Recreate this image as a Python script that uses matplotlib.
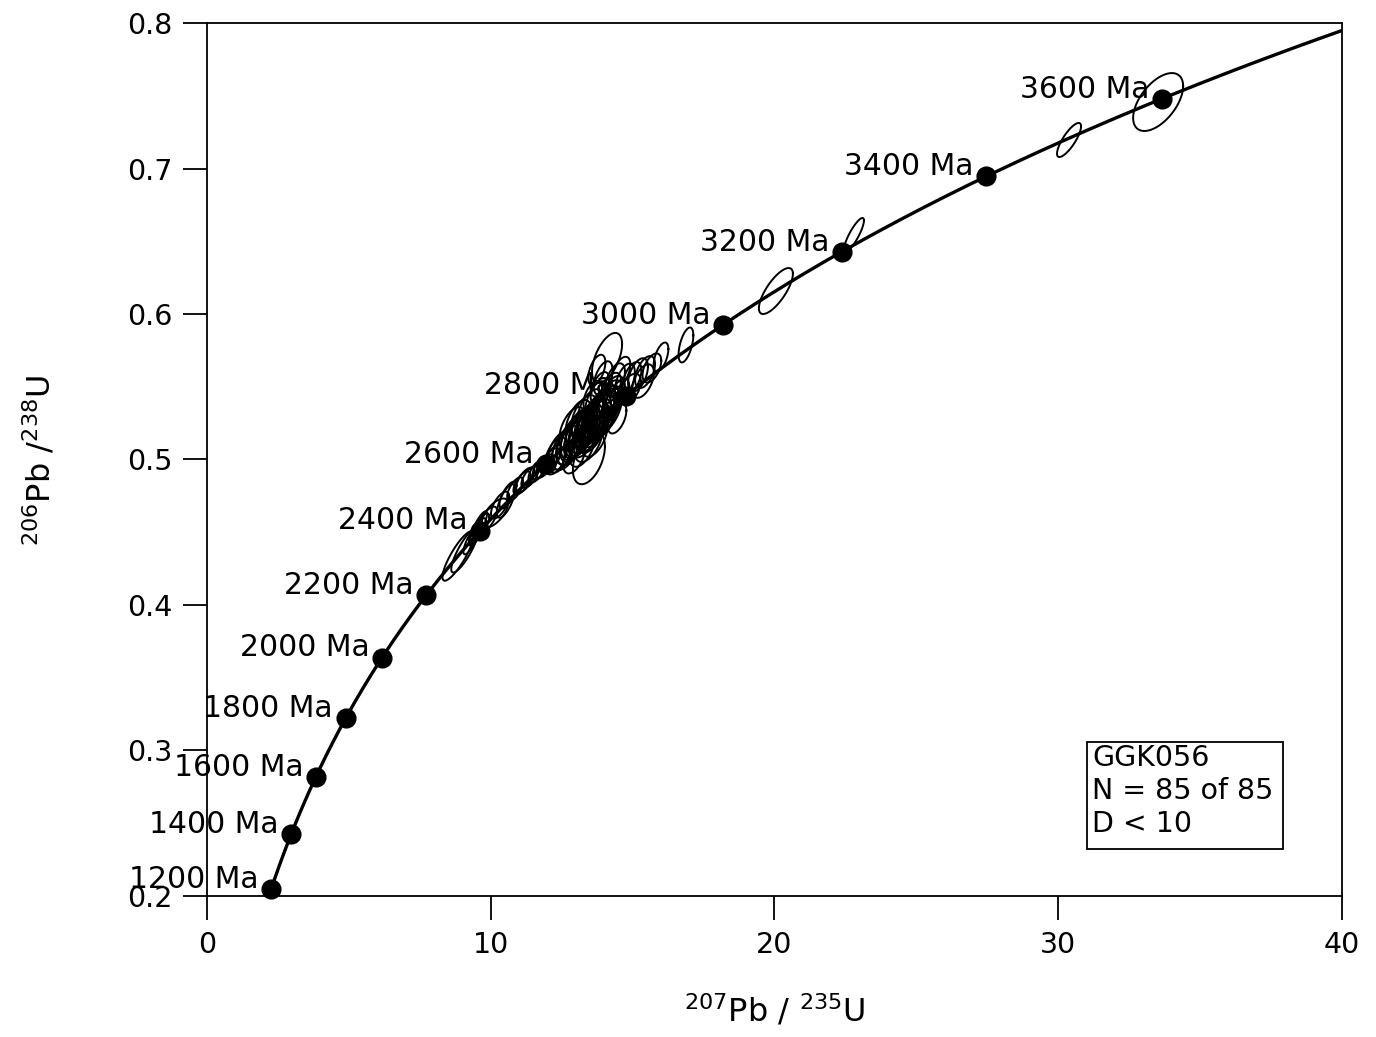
import numpy as np
import matplotlib
matplotlib.use('Agg')
import matplotlib.pyplot as plt
from matplotlib.patches import Rectangle

plt.rcParams['font.family'] = ['DejaVu Sans']
plt.rcParams['mathtext.fontset'] = 'dejavusans'

# decay constants (1/yr) for the concordia curve
lam238 = 1.55125e-10
lam235 = 9.8485e-10

# ages marked on the concordia (Ma)
ages_ma = [1200, 1400, 1600, 1800, 2000, 2200, 2400, 2600, 2800, 3000, 3200, 3400, 3600]

# error ellipses: centre (207Pb/235U, 206Pb/238U), half widths, correlation
ell_x = [33.52, 30.38, 22.80, 20.05, 16.88, 16.00, 14.10, 15.68, 15.44, 15.19,
         15.37, 14.98, 14.73, 14.38, 13.96, 13.74, 14.55, 14.91, 14.27, 14.45,
         14.03, 13.46,
         12.30, 12.44, 12.55, 12.65, 12.76, 12.83, 12.90, 12.97, 13.04, 13.11,
         13.18, 13.25, 13.32, 13.39, 13.46, 13.53, 13.57, 13.64, 13.67, 13.74,
         13.78, 13.85, 13.89, 13.96, 13.99, 14.06, 14.13, 14.20, 14.27, 12.95,
         13.23, 13.45, 13.66, 12.88, 13.09, 13.30, 13.51, 13.72,
         11.91, 12.09, 12.19, 11.63, 11.38, 11.10, 10.86, 10.61, 10.54, 10.15,
         9.87, 9.69, 9.59, 9.48, 9.30, 8.85, 9.09, 9.55, 10.33, 11.21, 11.77,
         13.85, 13.60, 14.59, 14.24]
ell_y = [0.7457, 0.7196, 0.6543, 0.6158, 0.5787, 0.5704, 0.5698, 0.5629, 0.5601, 0.5581,
         0.5539, 0.5560, 0.5539, 0.5546, 0.5560, 0.5615, 0.5457, 0.5485, 0.5374, 0.5284,
         0.5264, 0.5009,
         0.5024, 0.5052, 0.5065, 0.5079, 0.5107, 0.5120, 0.5134, 0.5155, 0.5148, 0.5182,
         0.5175, 0.5203, 0.5196, 0.5223, 0.5217, 0.5251, 0.5230, 0.5271, 0.5244, 0.5299,
         0.5271, 0.5320, 0.5292, 0.5340, 0.5313, 0.5368, 0.5347, 0.5402, 0.5423, 0.5031,
         0.5093, 0.5134, 0.5162, 0.5217, 0.5258, 0.5299, 0.5340, 0.5395,
         0.4955, 0.4990, 0.5010, 0.4921, 0.4880, 0.4839, 0.4797, 0.4756, 0.4715, 0.4632,
         0.4584, 0.4550, 0.4522, 0.4488, 0.4440, 0.4337, 0.4378, 0.4529, 0.4687, 0.4859,
         0.4942,
         0.5491, 0.5436, 0.5601, 0.5491]
ell_sx = [0.881, 0.423, 0.352, 0.599, 0.260, 0.260, 0.529, 0.330, 0.350, 0.350,
          0.380, 0.330, 0.350, 0.350, 0.330, 0.300, 0.330, 0.380, 0.330, 0.330,
          0.300, 0.564,
          0.40, 0.46, 0.40, 0.50, 0.46, 0.50, 0.46, 0.50, 0.46, 0.50,
          0.46, 0.50, 0.55, 0.46, 0.50, 0.50, 0.55, 0.46, 0.50, 0.50,
          0.46, 0.50, 0.50, 0.46, 0.50, 0.46, 0.50, 0.46, 0.46, 0.40,
          0.46, 0.50, 0.46, 0.46, 0.46, 0.46, 0.46, 0.40,
          0.32, 0.35, 0.30, 0.30, 0.30, 0.30, 0.28, 0.30, 0.32, 0.46,
          0.35, 0.26, 0.24, 0.24, 0.26, 0.55, 0.48, 0.32, 0.32, 0.32,
          0.30,
          0.33, 0.33, 0.33, 0.35]
ell_sy = [0.0199, 0.0117, 0.0117, 0.0158, 0.0120, 0.0100, 0.0172, 0.0100, 0.0110, 0.0115,
          0.0115, 0.0110, 0.0120, 0.0115, 0.0115, 0.0105, 0.0100, 0.0105, 0.0110, 0.0105,
          0.0100, 0.0179,
          0.0127, 0.0143, 0.0135, 0.0151, 0.0143, 0.0159, 0.0151, 0.0159, 0.0143, 0.0167,
          0.0151, 0.0159, 0.0182, 0.0151, 0.0167, 0.0159, 0.0182, 0.0151, 0.0159, 0.0159,
          0.0151, 0.0167, 0.0151, 0.0151, 0.0159, 0.0143, 0.0159, 0.0143, 0.0151, 0.0127,
          0.0143, 0.0151, 0.0143, 0.0143, 0.0151, 0.0143, 0.0143, 0.0143,
          0.0080, 0.0088, 0.0092, 0.0080, 0.0075, 0.0080, 0.0080, 0.0092, 0.0115, 0.0100,
          0.0092, 0.0080, 0.0075, 0.0080, 0.0092, 0.0170, 0.0155, 0.0115, 0.0092, 0.0085,
          0.0080,
          0.0110, 0.0105, 0.0105, 0.0105]
ell_rho = [0.55, 0.80, 0.85, 0.75, 0.55, 0.55, 0.55, 0.50, 0.50, 0.50,
           0.50, 0.50, 0.50, 0.50, 0.50, 0.50, 0.50, 0.50, 0.50, 0.50,
           0.50, 0.45,
           0.50, 0.50, 0.50, 0.50, 0.50, 0.50, 0.50, 0.50, 0.50, 0.50,
           0.50, 0.50, 0.50, 0.50, 0.50, 0.50, 0.50, 0.50, 0.50, 0.50,
           0.50, 0.50, 0.50, 0.50, 0.50, 0.50, 0.50, 0.50, 0.50, 0.50,
           0.50, 0.50, 0.50, 0.50, 0.50, 0.50, 0.50, 0.50,
           0.65, 0.65, 0.65, 0.65, 0.65, 0.65, 0.65, 0.70, 0.70, 0.65,
           0.70, 0.70, 0.70, 0.75, 0.80, 0.85, 0.85, 0.85, 0.65, 0.65,
           0.65,
           0.50, 0.50, 0.50, 0.50]

sample_text = 'GGK056\nN = 85 of 85\nD < 10'

fig = plt.figure(figsize=(13.76, 10.37), dpi=100)
ax = fig.add_axes([0.1504, 0.1360, 0.8249, 0.8418])

# concordia curve
t = np.linspace(1000e6, 3900e6, 600)
ax.plot(np.exp(lam235 * t) - 1, np.exp(lam238 * t) - 1, '-', color='black', lw=2.4, zorder=3)

# error ellipses
th = np.linspace(0, 2 * np.pi, 120)
for cx, cy, sx, sy, r in zip(ell_x, ell_y, ell_sx, ell_sy, ell_rho):
    ex = cx + sx * np.cos(th)
    ey = cy + sy * (r * np.cos(th) + np.sqrt(1 - r * r) * np.sin(th))
    ax.plot(ex, ey, '-', color='black', lw=1.4, zorder=2)

# age markers and labels
for a in ages_ma:
    tt = a * 1e6
    px = np.exp(lam235 * tt) - 1
    py = np.exp(lam238 * tt) - 1
    ax.plot(px, py, 'o', color='black', ms=13.5, zorder=4, clip_on=False)
    ax.annotate('%d Ma' % a, (px, py), xytext=(-9, 7), textcoords='offset points',
                ha='right', va='center', fontsize=21.5, zorder=5, annotation_clip=False)

ax.set_xlim(0, 40)
ax.set_ylim(0.2, 0.8)
ax.set_xticks([0, 10, 20, 30, 40])
ax.set_yticks([0.2, 0.3, 0.4, 0.5, 0.6, 0.7, 0.8])
ax.set_yticklabels(['0.2', '0.3', '0.4', '0.5', '0.6', '0.7', '0.8'])
ax.tick_params(direction='out', length=17, width=1.3, labelsize=20.5, pad=8)
for sp in ax.spines.values():
    sp.set_linewidth(1.3)

# sample box
ax.add_patch(Rectangle((31.01, 0.2323), 6.91, 0.0735, fill=False, ec='black', lw=1.3, zorder=6))
ax.text(31.2, 0.3045, sample_text, ha='left', va='top', fontsize=20.5, linespacing=1.22, zorder=6)

fig.text(0.5632, 0.0251, r'$^{207}$Pb / $^{235}$U', ha='center', va='center', fontsize=23)
fig.text(0.0291, 0.5564, r'$^{206}$Pb /$^{238}$U', ha='center', va='center', fontsize=23, rotation=90)

fig.savefig('out.png', dpi=100)
